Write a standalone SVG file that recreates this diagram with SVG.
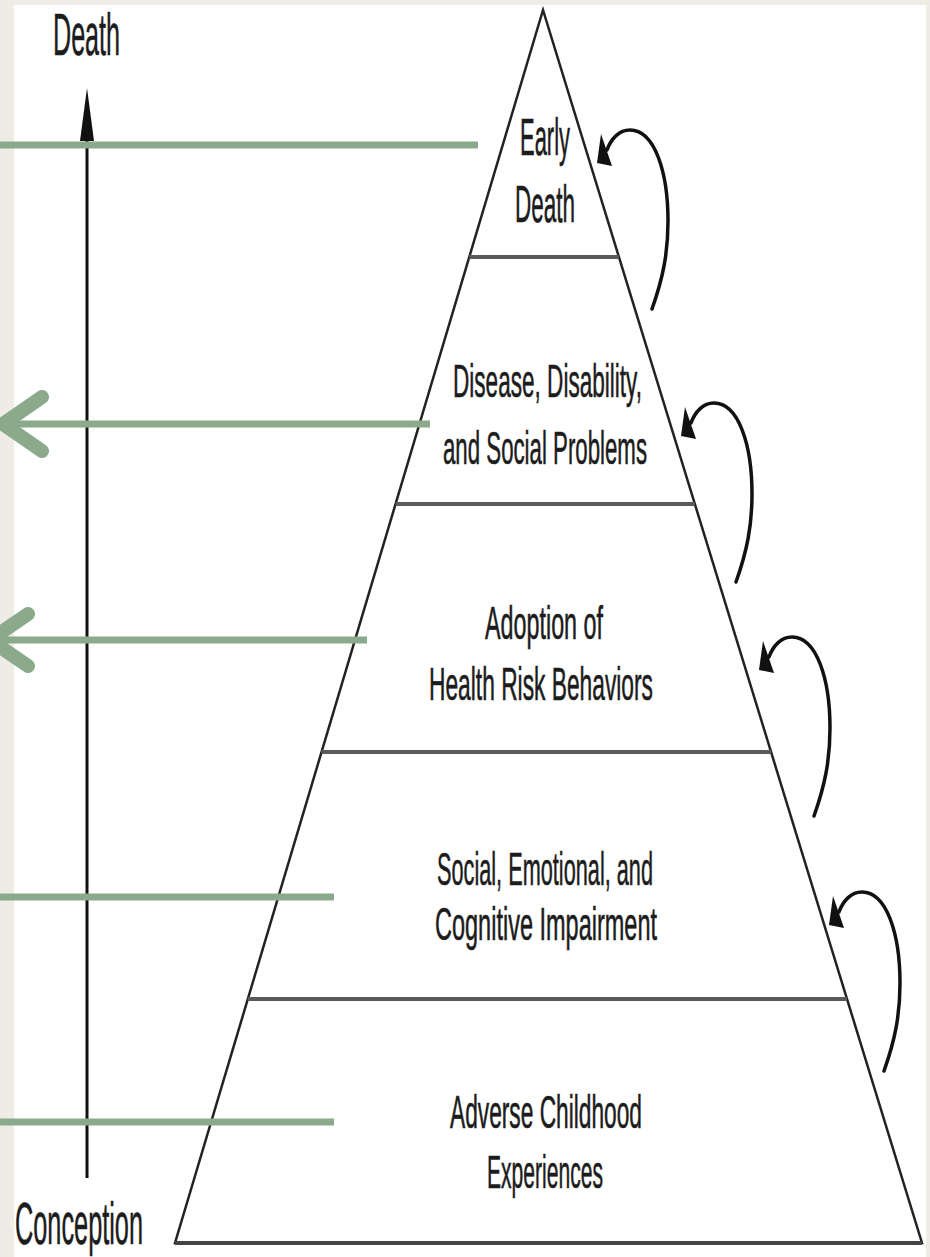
<svg xmlns="http://www.w3.org/2000/svg" xmlns:xlink="http://www.w3.org/1999/xlink" width="930" height="1257" viewBox="0 0 930 1257">
<style>
.t{font-family:"Liberation Sans Narrow","Liberation Sans",Arial,sans-serif;fill:#1c1c1c;stroke:#1c1c1c;stroke-width:0.6;}
.b{font-size:46px;}
.g{stroke:#8BAA8B;stroke-width:7;fill:none;}
.chev{stroke:#8BAA8B;stroke-width:14;stroke-linecap:round;stroke-linejoin:round;fill:none;}
.div{stroke:#5a5a5a;stroke-width:4;}
.loop{stroke:#111;stroke-width:3.5;fill:none;stroke-linecap:round;}
</style>
<defs>
<g id="loopArrow">
<path class="loop" d="M 55 146 C 66 115 71 90 71 58 C 71 10 58 -33 33 -33 C 22 -33 14 -24 10 -13"/>
<polygon points="0,0 4,-29 15,3" fill="#111"/>
</g>
</defs>
<rect x="0" y="0" width="930" height="1257" fill="#EEECE4"/>
<rect x="14" y="5" width="912" height="1252" fill="#FFFFFF"/>

<g id="pyramid">
<polygon points="543,10 175,1243 922,1243" fill="none" stroke="#222" stroke-width="2.5" stroke-linejoin="miter"/>
<line x1="175" y1="1243" x2="922" y2="1243" stroke="#444" stroke-width="4"/>
<line class="div" x1="469.3" y1="257" x2="618.9" y2="257"/>
<line class="div" x1="395.6" y1="504" x2="694.8" y2="504"/>
<line class="div" x1="321.5" y1="752" x2="771.1" y2="752"/>
<line class="div" x1="247.8" y1="999" x2="847" y2="999"/>
</g>

<g id="level-early-death">
<text class="t" x="520" y="155" font-size="52" textLength="50" lengthAdjust="spacingAndGlyphs">Early</text>
<text class="t" x="515" y="222" font-size="52" textLength="60" lengthAdjust="spacingAndGlyphs">Death</text>
</g>
<g id="level-disease">
<text class="t b" x="453" y="397" textLength="189" lengthAdjust="spacingAndGlyphs">Disease, Disability,</text>
<text class="t b" x="443" y="464" textLength="204" lengthAdjust="spacingAndGlyphs">and Social Problems</text>
</g>
<g id="level-adoption">
<text class="t b" x="485" y="639" textLength="118" lengthAdjust="spacingAndGlyphs">Adoption of</text>
<text class="t b" x="429" y="700" textLength="224" lengthAdjust="spacingAndGlyphs">Health Risk Behaviors</text>
</g>
<g id="level-impairment">
<text class="t b" x="437" y="885" textLength="216" lengthAdjust="spacingAndGlyphs">Social, Emotional, and</text>
<text class="t b" x="435" y="940" textLength="222" lengthAdjust="spacingAndGlyphs">Cognitive Impairment</text>
</g>
<g id="level-ace">
<text class="t b" x="450" y="1128" textLength="192" lengthAdjust="spacingAndGlyphs">Adverse Childhood</text>
<text class="t b" x="487" y="1188" textLength="116" lengthAdjust="spacingAndGlyphs">Experiences</text>
</g>

<g id="axis">
<line x1="87" y1="1178" x2="87" y2="135" stroke="#111" stroke-width="3"/>
<polygon points="87,88 80,141 94,141" fill="#111"/>
<text class="t" x="53" y="55" font-size="60" textLength="67" lengthAdjust="spacingAndGlyphs">Death</text>
<text class="t" x="15" y="1244" font-size="60" textLength="128" lengthAdjust="spacingAndGlyphs">Conception</text>
</g>

<g id="connectors">
<line class="g" x1="0" y1="145" x2="478" y2="145"/>
<line class="g" x1="0" y1="424" x2="430" y2="424"/>
<polyline class="chev" points="42,397 3,424 42,451"/>
<line class="g" x1="0" y1="640" x2="367" y2="640"/>
<polyline class="chev" points="28,614 -10,640 28,666"/>
<line class="g" x1="0" y1="897" x2="334" y2="897"/>
<line class="g" x1="0" y1="1122" x2="334" y2="1122"/>
<use xlink:href="#loopArrow" transform="translate(597,163)"/>
<use xlink:href="#loopArrow" transform="translate(681,436)"/>
<use xlink:href="#loopArrow" transform="translate(759,670)"/>
<use xlink:href="#loopArrow" transform="translate(829,925)"/>
</g>
</svg>
